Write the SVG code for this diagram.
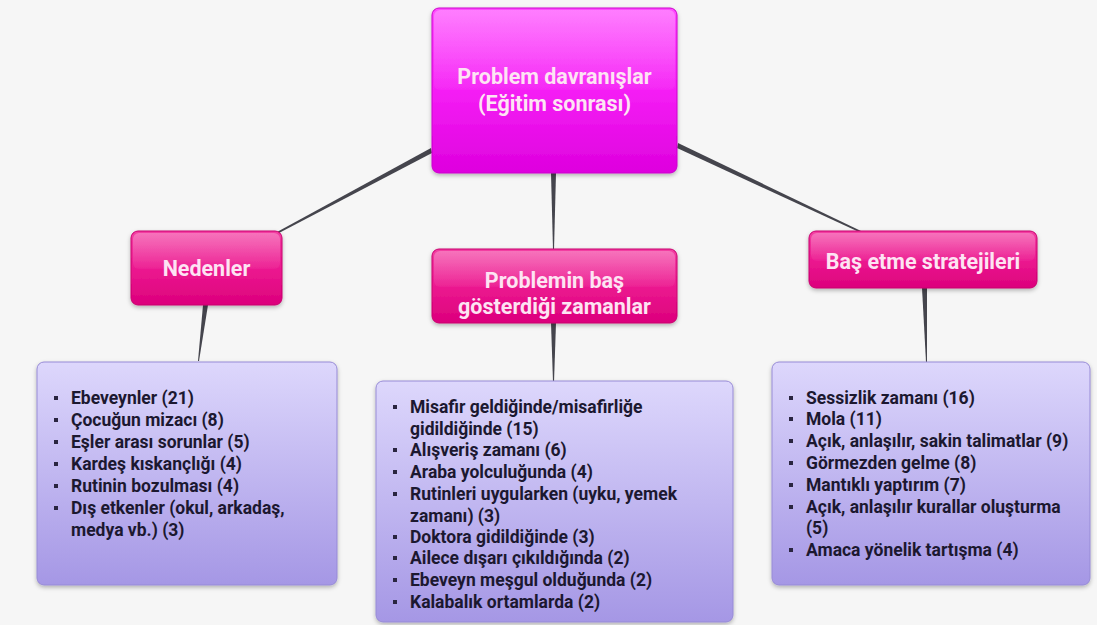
<svg xmlns="http://www.w3.org/2000/svg" width="1097" height="625" viewBox="0 0 1097 625">
  <defs>
    <linearGradient id="gRoot" x1="0" y1="0" x2="0" y2="1">
      <stop offset="0" stop-color="#ff4cff"/>
      <stop offset="0.5" stop-color="#f51ef5"/>
      <stop offset="1" stop-color="#de00de"/>
    </linearGradient>
    <linearGradient id="gPink" x1="0" y1="0" x2="0" y2="1">
      <stop offset="0" stop-color="#f33ea2"/>
      <stop offset="0.5" stop-color="#ec1990"/>
      <stop offset="1" stop-color="#dc007c"/>
    </linearGradient>
    <linearGradient id="gGloss" x1="0" y1="0" x2="0" y2="1">
      <stop offset="0" stop-color="#ffffff" stop-opacity="0.28"/>
      <stop offset="1" stop-color="#ffffff" stop-opacity="0.04"/>
    </linearGradient>
    <linearGradient id="gList" x1="0" y1="0" x2="0" y2="1">
      <stop offset="0" stop-color="#ddd7fc"/>
      <stop offset="1" stop-color="#a597e5"/>
    </linearGradient>
    <filter id="shadow" x="-10%" y="-10%" width="120%" height="125%">
      <feDropShadow dx="0" dy="2" stdDeviation="2" flood-color="#000" flood-opacity="0.28"/>
    </filter>
  </defs>
  <style>
    .head { font-family: Roboto, "Liberation Sans", sans-serif; font-weight: bold; font-size: 21.5px; fill: #fde4f3; text-anchor: middle; }
    .item { font-family: Roboto, "Liberation Sans", sans-serif; font-weight: bold; font-size: 17.5px; fill: #1c1830; }
    .bullet { fill: #2a2540; }
    .wire { fill: #45454d; }
    .list { fill: url(#gList); stroke: #978bd6; stroke-width: 1; filter: url(#shadow); }
    .pink { fill: url(#gPink); stroke: #c9006f; stroke-width: 1; filter: url(#shadow); }
  </style>

  <rect width="1097" height="625" fill="#f6f6f6"/>

  <!-- tapered connectors: wide at the parent, narrow at the child -->
  <g id="connectors">
    <polygon class="wire" points="431,148 432,153 279,233 277,232"/>
    <polygon class="wire" points="551,173 556,173 554,250 553,250"/>
    <polygon class="wire" points="678,143 677,148 859,232 861,231"/>
    <polygon class="wire" points="203,305 208,305 199,361 198,361"/>
    <polygon class="wire" points="551,323 556,323 554,382 553,382"/>
    <polygon class="wire" points="922,288 927,288 927,362 926,362"/>
  </g>

  <g id="root">
    <rect x="432" y="8" width="245" height="165" rx="7" fill="url(#gRoot)" stroke="#cc00cc" filter="url(#shadow)"/>
    <rect x="434" y="10" width="241" height="80" rx="6" fill="url(#gGloss)"/>
    <text class="head" x="554.5" y="84">Problem davranışlar</text>
    <text class="head" x="554.5" y="111">(Eğitim sonrası)</text>
  </g>

  <g id="nedenler">
    <rect class="pink" x="131" y="231" width="151" height="74" rx="7"/>
    <rect x="133" y="233" width="147" height="36" rx="6" fill="url(#gGloss)"/>
    <text class="head" x="206.5" y="276">Nedenler</text>
  </g>

  <g id="zamanlar">
    <rect class="pink" x="432" y="249" width="245" height="74" rx="7"/>
    <rect x="434" y="251" width="241" height="36" rx="6" fill="url(#gGloss)"/>
    <text class="head" x="554.5" y="288">Problemin baş</text>
    <text class="head" x="554.5" y="314">gösterdiği zamanlar</text>
  </g>

  <g id="stratejiler">
    <rect class="pink" x="809" y="231" width="228" height="57" rx="7"/>
    <rect x="811" y="233" width="224" height="28" rx="6" fill="url(#gGloss)"/>
    <text class="head" x="923" y="269">Baş etme stratejileri</text>
  </g>

  <g id="nedenler-list">
    <rect class="list" x="37" y="362" width="300" height="223" rx="7"/>
    <g class="bullet">
      <rect x="54" y="396" width="4" height="4"/>
      <rect x="54" y="418" width="4" height="4"/>
      <rect x="54" y="440" width="4" height="4"/>
      <rect x="54" y="462" width="4" height="4"/>
      <rect x="54" y="484" width="4" height="4"/>
      <rect x="54" y="506" width="4" height="4"/>
    </g>
    <text class="item" x="71" y="404">Ebeveynler (21)</text>
    <text class="item" x="71" y="426">Çocuğun mizacı (8)</text>
    <text class="item" x="71" y="448">Eşler arası sorunlar (5)</text>
    <text class="item" x="71" y="470">Kardeş kıskançlığı (4)</text>
    <text class="item" x="71" y="492">Rutinin bozulması (4)</text>
    <text class="item" x="71" y="514">Dış etkenler (okul, arkadaş,</text>
    <text class="item" x="71" y="536">medya vb.) (3)</text>
  </g>

  <g id="zamanlar-list">
    <rect class="list" x="376" y="381" width="357" height="241" rx="7"/>
    <g class="bullet">
      <rect x="393" y="405" width="4" height="4"/>
      <rect x="393" y="448" width="4" height="4"/>
      <rect x="393" y="470" width="4" height="4"/>
      <rect x="393" y="492" width="4" height="4"/>
      <rect x="393" y="535" width="4" height="4"/>
      <rect x="393" y="556" width="4" height="4"/>
      <rect x="393" y="578" width="4" height="4"/>
      <rect x="393" y="600" width="4" height="4"/>
    </g>
    <text class="item" x="410" y="413">Misafir geldiğinde/misafirliğe</text>
    <text class="item" x="410" y="435">gidildiğinde (15)</text>
    <text class="item" x="410" y="456">Alışveriş zamanı (6)</text>
    <text class="item" x="410" y="478">Araba yolculuğunda (4)</text>
    <text class="item" x="410" y="500">Rutinleri uygularken (uyku, yemek</text>
    <text class="item" x="410" y="522">zamanı) (3)</text>
    <text class="item" x="410" y="543">Doktora gidildiğinde (3)</text>
    <text class="item" x="410" y="564">Ailece dışarı çıkıldığında (2)</text>
    <text class="item" x="410" y="586">Ebeveyn meşgul olduğunda (2)</text>
    <text class="item" x="410" y="608">Kalabalık ortamlarda (2)</text>
  </g>

  <g id="stratejiler-list">
    <rect class="list" x="772" y="362" width="318" height="223" rx="7"/>
    <g class="bullet">
      <rect x="789" y="396" width="4" height="4"/>
      <rect x="789" y="417" width="4" height="4"/>
      <rect x="789" y="439" width="4" height="4"/>
      <rect x="789" y="461" width="4" height="4"/>
      <rect x="789" y="483" width="4" height="4"/>
      <rect x="789" y="505" width="4" height="4"/>
      <rect x="789" y="548" width="4" height="4"/>
    </g>
    <text class="item" x="806" y="404">Sessizlik zamanı (16)</text>
    <text class="item" x="806" y="425">Mola (11)</text>
    <text class="item" x="806" y="447">Açık, anlaşılır, sakin talimatlar (9)</text>
    <text class="item" x="806" y="469">Görmezden gelme (8)</text>
    <text class="item" x="806" y="491">Mantıklı yaptırım (7)</text>
    <text class="item" x="806" y="513">Açık, anlaşılır kurallar oluşturma</text>
    <text class="item" x="806" y="534">(5)</text>
    <text class="item" x="806" y="556">Amaca yönelik tartışma (4)</text>
  </g>
</svg>
